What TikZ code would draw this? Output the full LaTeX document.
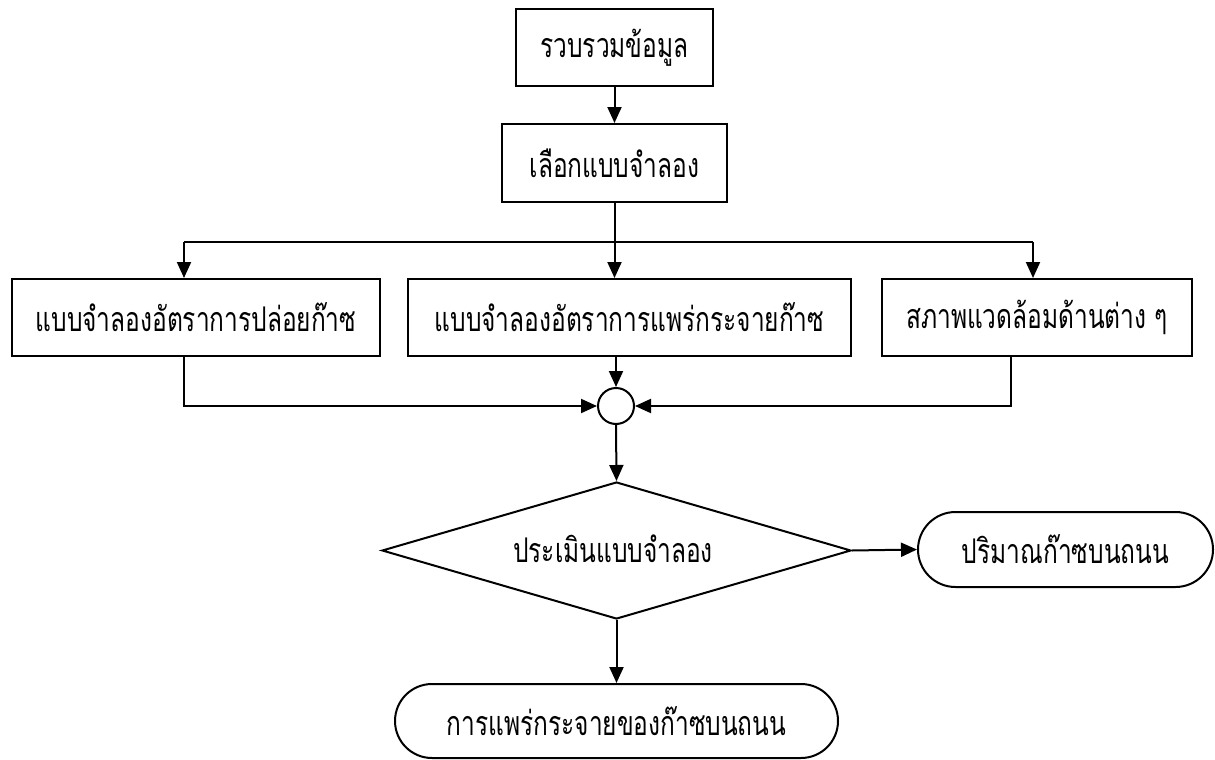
\documentclass[tikz,border=0pt]{standalone}
\usepackage{fontspec}
\newfontfamily\thaifont[Script=Thai,FakeStretch=0.72]{Loma}
\usetikzlibrary{arrows.meta,shapes.geometric,shapes.misc}
\begin{document}
\begin{tikzpicture}[x=1pt,y=-1pt,
  every node/.style={font=\thaifont\fontsize{34}{38}\selectfont, line width=2pt, inner sep=0pt},
  box/.style={draw, rectangle},
  term/.style={draw, rounded rectangle},
  dec/.style={draw, diamond},
  conn/.style={line width=2pt},
  arr/.style={line width=2pt, -{Triangle[length=16pt,width=14pt]}}]
\useasboundingbox (0,0) rectangle (1215,760);
\node[box, minimum width=197pt, minimum height=77pt] (b1) at (614.5,47.5) {รวบรวมข้อมูล};
\node[box, minimum width=225pt, minimum height=78pt] (b2) at (614.5,163) {เลือกแบบจำลอง};
\node[box, minimum width=368pt, minimum height=77pt] (L) at (196,317.5) {แบบจำลองอัตราการปล่อยก๊าซ};
\node[box, minimum width=443pt, minimum height=77pt] (M) at (629.5,317.5) {แบบจำลองอัตราการแพร่กระจายก๊าซ};
\node[box, minimum width=310pt, minimum height=77pt] (R) at (1037,317.5) {สภาพแวดล้อมด้านต่าง ๆ};
\node[draw, circle, minimum size=36pt] (c) at (616,406) {};
\node[dec, minimum width=469pt, minimum height=137pt] (d) at (616.5,550.5) {};
\node at (613,549) {ประเมินแบบจำลอง};
\node[term, minimum width=295pt, minimum height=75pt] (t1) at (1065.5,549.5) {ปริมาณก๊าซบนถนน};
\node[term, minimum width=443pt, minimum height=74pt] (t2) at (616.5,721) {การแพร่กระจายของก๊าซบนถนน};
\coordinate (jL) at (184,242);
\coordinate (jR) at (1033,242);
\coordinate (bL) at (184,406);
\coordinate (bR) at (1011,406);
\draw[arr] (b1.south) -- (b2.north);
\draw[arr] (b2.south) -- (b2.south |- M.north);
\draw[conn] (jL) -- (jR);
\draw[arr] (jL) -- (jL |- L.north);
\draw[arr] (jR) -- (jR |- R.north);
\draw[arr] (c.north |- M.south) -- (c.north);
\draw[arr] (bL |- L.south) -- (bL) -- (c.west);
\draw[arr] (bR |- R.south) -- (bR) -- (c.east);
\draw[arr] (c.south) -- (d.north);
\draw[arr] (d.east) -- (t1.west);
\draw[arr] (d.south) -- (t2.north);
\end{tikzpicture}
\end{document}
